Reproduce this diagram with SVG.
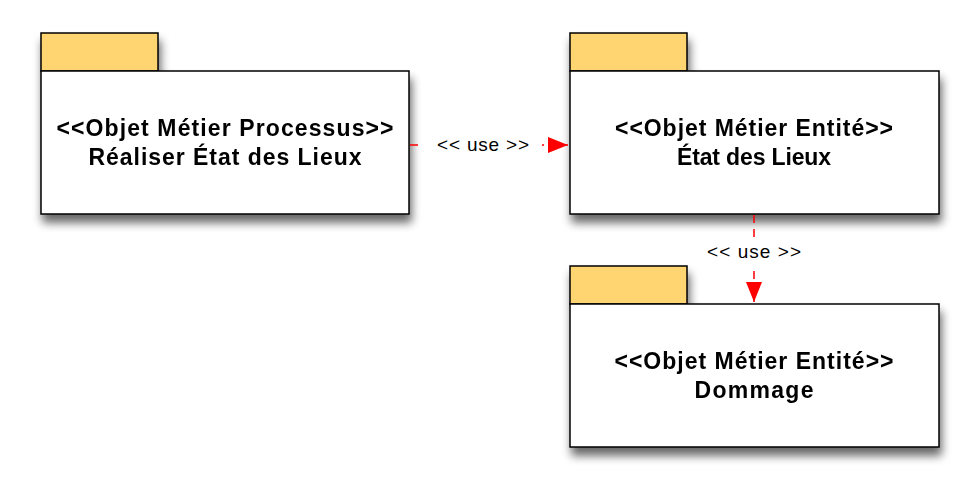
<svg xmlns="http://www.w3.org/2000/svg" width="980" height="498" viewBox="0 0 980 498">
  <defs>
    <filter id="shadow" x="-10%" y="-10%" width="125%" height="140%">
      <feGaussianBlur in="SourceAlpha" stdDeviation="5"/>
      <feOffset dx="2" dy="8" result="b"/>
      <feComponentTransfer><feFuncA type="linear" slope="0.6"/></feComponentTransfer>
      <feMerge><feMergeNode/><feMergeNode in="SourceGraphic"/></feMerge>
    </filter>
    <marker id="arrow" viewBox="0 0 20 20" refX="20" refY="10" markerWidth="20" markerHeight="20" markerUnits="userSpaceOnUse" orient="auto">
      <path d="M0,2 L20,10 L0,18 Z" fill="#ff0000"/>
    </marker>
  </defs>
  <style>
    .tab { fill: #fed56f; stroke: #000; stroke-width: 1.5; }
    .body { fill: #fff; stroke: #000; stroke-width: 1.5; }
    .title { font-family: "Liberation Sans", Arial, sans-serif; font-weight: bold; font-size: 23px; text-anchor: middle; fill: #000; }
    .edge { stroke: #ff0000; stroke-width: 1.5; stroke-dasharray: 8 6; fill: none; }
    .label { font-family: "Liberation Sans", Arial, sans-serif; font-size: 19px; text-anchor: middle; fill: #000; }
  </style>
  <rect width="980" height="498" fill="#fff"/>

  <g id="node-realiser" filter="url(#shadow)">
    <rect class="tab" x="41" y="33" width="117" height="38"/>
    <rect class="body" x="41" y="71" width="368" height="143"/>
    <text class="title" x="225" y="136" textLength="337" lengthAdjust="spacing">&lt;&lt;Objet Métier Processus&gt;&gt;</text>
    <text class="title" x="225" y="165" textLength="273" lengthAdjust="spacing">Réaliser État des Lieux</text>
  </g>

  <g id="node-etat" filter="url(#shadow)">
    <rect class="tab" x="570" y="33" width="117" height="38"/>
    <rect class="body" x="570" y="71" width="369" height="143"/>
    <text class="title" x="754" y="136" textLength="278" lengthAdjust="spacing">&lt;&lt;Objet Métier Entité&gt;&gt;</text>
    <text class="title" x="754" y="165" textLength="154" lengthAdjust="spacing">État des Lieux</text>
  </g>

  <g id="node-dommage" filter="url(#shadow)">
    <rect class="tab" x="570" y="266" width="117" height="38"/>
    <rect class="body" x="570" y="304" width="369" height="143"/>
    <text class="title" x="754" y="369" textLength="279" lengthAdjust="spacing">&lt;&lt;Objet Métier Entité&gt;&gt;</text>
    <text class="title" x="754" y="398" textLength="119" lengthAdjust="spacing">Dommage</text>
  </g>

  <g id="connectors">
    <path class="edge" d="M410,145 L568,145" marker-end="url(#arrow)"/>
    <rect x="424" y="133" width="118" height="24" fill="#fff"/>
    <text class="label" x="483" y="151" textLength="92" lengthAdjust="spacing">&lt;&lt; use &gt;&gt;</text>

    <path class="edge" d="M754,215 L754,302" marker-end="url(#arrow)"/>
    <rect x="697" y="237" width="116" height="29" fill="#fff"/>
    <text class="label" x="754" y="258" textLength="94" lengthAdjust="spacing">&lt;&lt; use &gt;&gt;</text>
  </g>
</svg>
